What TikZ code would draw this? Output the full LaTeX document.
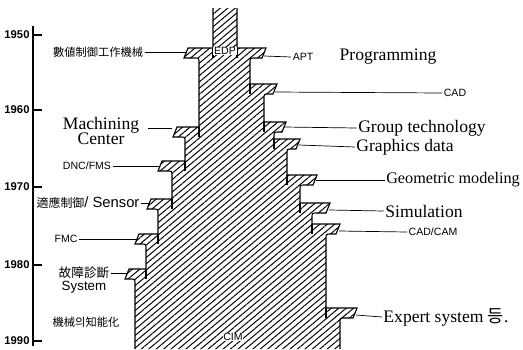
\documentclass[tikz,border=0pt]{standalone}
\usepackage{fontspec}
\setmainfont{Liberation Serif}
\setsansfont{Liberation Sans}
\newfontfamily\krfont{Noto Sans CJK KR}
\usetikzlibrary{patterns.meta}

% upper edge / tab top / tab end / lower edge (pixels)
\newcommand\leftsteps{213/48/184/199, 199/127/173/185, 185/161/158/172,
 172/199/147/158, 158/234/135/146, 146/269/125/135}
\newcommand\rightsteps{237/48/266/250, 250/84/277/264, 264/122/286/274,
 274/139/300/287, 287/175/317/300, 300/203/330/312, 312/224/340/326,
 326/308/357/340}

\begin{document}
\begin{tikzpicture}[x=0.025cm,y=-0.025cm,
 edge/.style={line width=0.8pt},
 lead/.style={line width=0.5pt},
 hatch/.style={pattern={Lines[angle=40,distance=3.4pt,line width=0.7pt]}},
 big/.style={font=\fontsize{12.5}{11}\selectfont,inner sep=1pt},
 tag/.style={font=\sffamily\fontsize{7.5}{8}\selectfont,inner sep=1pt},
 han/.style={font=\krfont\fontsize{8}{9}\selectfont,inner sep=1pt},
 year/.style={font=\sffamily\bfseries\fontsize{8}{9}\selectfont}]
\useasboundingbox (0,0) rectangle (523,349);

% time axis
\draw[edge] (33,26) -- (33,346);
\foreach \yr/\yy in {1950/35,1960/110,1970/187,1980/265,1990/341} {
 \node[year] (y\yr) at (17,\yy) {\yr};
 \draw[edge] (33,\yy) -- (42,\yy);
}

% hatched body
\begin{scope}
 \clip (213,8) foreach \ux/\ty/\ox/\nx in \leftsteps {
  |- (\ox+4,\ty) -- (\ox,\ty+10) -- (\nx-5,\ty+10) .. controls (\nx,\ty+10) .. (\nx,\ty+15)}
  -- (135,349) -- (523,349) -- (523,8) -- cycle;
 \clip (237,8) foreach \ux/\ty/\ox/\nx in \rightsteps {
  |- (\ox,\ty) -- (\ox-4,\ty+10) -- (\nx+5,\ty+10) .. controls (\nx,\ty+10) .. (\nx,\ty+15)}
  -- (340,349) -- (0,349) -- (0,8) -- cycle;
 \fill[hatch] (0,8) rectangle (523,349);
\end{scope}
\draw[edge] (213,8) foreach \ux/\ty/\ox/\nx in \leftsteps {
  |- (\ox+4,\ty) -- (\ox,\ty+10) -- (\nx-5,\ty+10) .. controls (\nx,\ty+10) .. (\nx,\ty+15)}
  -- (135,349);
\draw[edge] (237,8) foreach \ux/\ty/\ox/\nx in \rightsteps {
  |- (\ox,\ty) -- (\ox-4,\ty+10) -- (\nx+5,\ty+10) .. controls (\nx,\ty+10) .. (\nx,\ty+15)}
  -- (340,349);
\foreach \ux/\ty/\ox/\nx in \leftsteps {\draw[edge] (\ux,\ty) -- ++(0,10);}
\foreach \ux/\ty/\ox/\nx in \rightsteps {\draw[edge] (\ux,\ty) -- ++(0,10);}

\node[tag,fill=white,inner sep=0.5pt] (edp) at (225,51) {EDP};
\node[tag,fill=white,inner sep=0.5pt] (cim) at (233,337) {CIM};

% left side
\coordinate (tA) at (186,52);
\coordinate (tB) at (172,128);
\coordinate (tC) at (160,166);
\coordinate (tD) at (149,203);
\coordinate (tE) at (137,239);
\coordinate (tF) at (127,273);
\node[han] (nc) at (98,52) {數値制御工作機械};
\node[big,align=center] (mc) at (101,131) {Machining\\Center};
\node[tag] (dnc) at (87,166) {DNC/FMS};
\node[inner sep=1pt] (sen) at (88,203) {{\krfont\fontsize{8.5}{9}\selectfont 適應制御}{\sffamily\fontsize{10.5}{11}\selectfont / Sensor}};
\node[tag] (fmc) at (66,239) {FMC};
\node[inner sep=1pt,align=center,font=\fontsize{9}{9.5}\selectfont] (fd) at (84,280)
 {{\krfont 故障診斷}\\{\sffamily\fontsize{9.5}{10}\selectfont System}};
\node[han] (mi) at (86,322) {機械의知能化};
\draw[lead] (nc.east) -- (tA);
\draw[lead,shorten <=5pt] (tB -| mc.east) -- (tB);
\draw[lead] (dnc.east) -- (tC);
\draw[lead] (sen.east) -- (tD);
\draw[lead] (fmc.east) -- (tE);
\draw[lead] (tF -| fd.east) -- (tF);

% right side
\coordinate (ta) at (264,56);
\coordinate (tb) at (275,92);
\coordinate (tc) at (284,127);
\coordinate (td) at (299,145);
\coordinate (te) at (316,180);
\coordinate (tf) at (329,210);
\coordinate (tg) at (339,231);
\coordinate (th) at (356,315);
\node[tag] (apt) at (303,57) {APT};
\node[big] (prog) at (388,57) {Programming};
\node[tag] (cad) at (455,93) {CAD};
\node[big] (gt) at (422,128) {Group technology};
\node[big] (gd) at (405,147) {Graphics data};
\node[big,font=\fontsize{11.5}{11}\selectfont] (gm) at (453,180) {Geometric modeling};
\node[big] (sim) at (424,211) {Simulation};
\node[tag] (cc) at (433,232) {CAD/CAM};
\node[big] (es) at (446,317) {Expert system {\krfont 등}.};
\draw[lead] (ta) -- (apt.west);
\draw[lead] (tb) -- (cad.west);
\draw[lead] (tc) -- (gt.west);
\draw[lead] (td) -- (gd.west);
\draw[lead] (te) -- (gm.west);
\draw[lead] (tf) -- (sim.west);
\draw[lead] (tg) -- (cc.west);
\draw[lead] (th) -- (es.west);
\end{tikzpicture}
\end{document}
